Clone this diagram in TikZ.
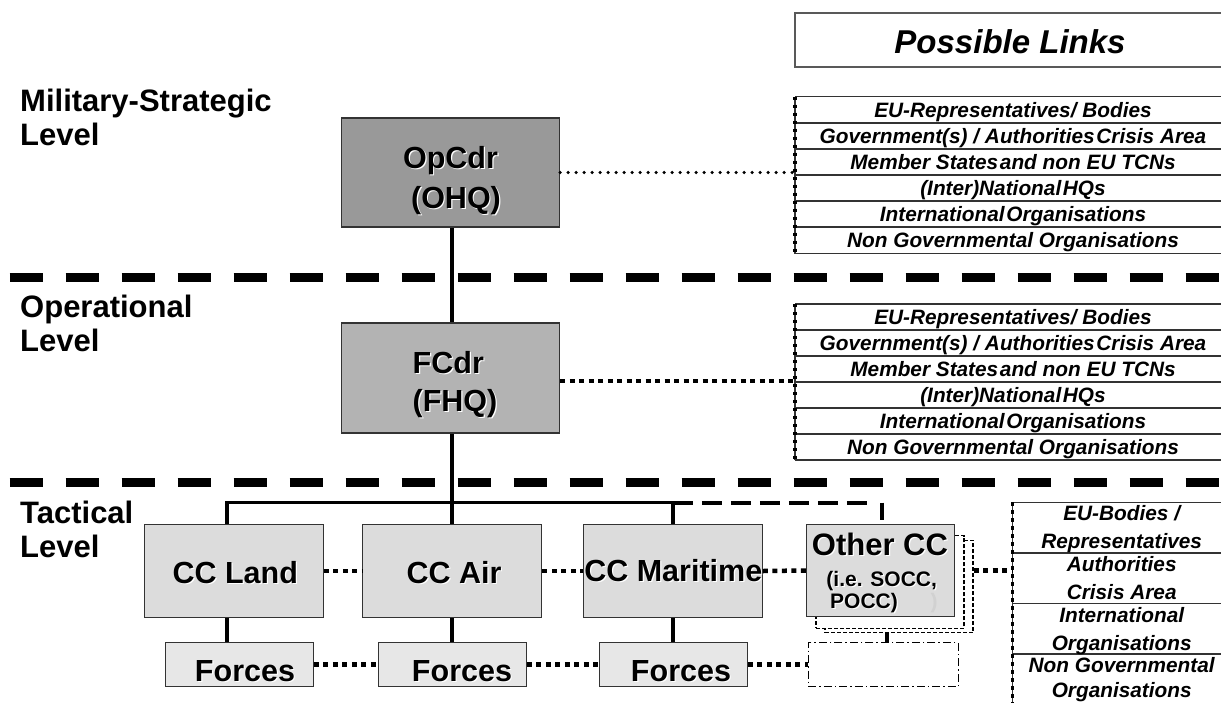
\documentclass[tikz,border=0pt]{standalone}
\usepackage{fontspec}
\setmainfont{Liberation Sans}
\usetikzlibrary{calc}

\definecolor{opgray}{HTML}{999999}
\definecolor{fcgray}{HTML}{B3B3B3}
\definecolor{ccgray}{HTML}{DCDCDC}
\definecolor{frgray}{HTML}{E7E7E7}
\definecolor{edgegray}{HTML}{333333}

% bold label with a light offset copy behind it
\newcommand\shd[1]{\makebox[0pt][l]{\hspace{1.2pt}\raisebox{-1.2pt}{\color{white}#1}}#1}
% narrow word gap
\newcommand\tsp{\hspace{0.08em}}

\begin{document}
\begin{tikzpicture}[x=1pt,y=-1pt,
  hqbox/.style={draw=edgegray, line width=1.3pt, inner sep=0pt},
  ccbox/.style={hqbox, fill=ccgray, minimum width=179pt, minimum height=93.4pt},
  frbox/.style={hqbox, fill=frgray, minimum width=148pt, minimum height=44pt},
  ghostbox/.style={draw=black, line width=1.2pt, dash pattern=on 4pt off 2pt, fill=white,
     inner sep=0pt, minimum width=148pt, minimum height=92.5pt},
  big/.style={font=\fontsize{30.5}{36}\selectfont\bfseries, inner sep=0pt, anchor=base},
  small/.style={font=\fontsize{21}{24}\selectfont\bfseries, inner sep=0pt, anchor=base},
  linktxt/.style={font=\fontsize{20.8}{24}\selectfont\bfseries\itshape, inner sep=0pt, anchor=base},
  levellbl/.style={font=\fontsize{31}{35}\selectfont\bfseries, inner sep=0pt, anchor=base west},
  sep/.style={line width=9pt, dash pattern=on 33pt off 23pt},
  tree/.style={line width=3.5pt},
  treedash/.style={line width=4pt, dash pattern=on 20pt off 9pt},
  roundlink/.style={line width=3.6pt, line cap=round, dash pattern=on 0pt off 8pt},
  sqlink/.style={line width=4.5pt, dash pattern=on 5pt off 4.5pt},
  rowline/.style={line width=1.5pt, draw=edgegray},
  tableedge/.style={line width=3.8pt, dash pattern=on 3.5pt off 4.5pt},
  tablenode/.style={inner sep=0pt, minimum width=445pt}
]
\useasboundingbox (0,0) rectangle (1221,702);
\clip (0,0) rectangle (1221,702);

% ---------- level separators ----------
\draw[sep] (9.5,277.5) -- (1240,277.5);
\draw[sep] (9.5,482.5) -- (1240,482.5);

% ---------- level names ----------
\node[levellbl] (lvMS1) at (20,111) {Military-Strategic};
\node[levellbl] (lvMS2) at (20,145) {Level};
\node[levellbl] (lvOp1) at (20,317) {Operational};
\node[levellbl] (lvOp2) at (20,351) {Level};
\node[levellbl] (lvTa1) at (20,523) {Tactical};
\node[levellbl] (lvTa2) at (20,557) {Level};

% ---------- headquarters ----------
\node[hqbox, fill=opgray, minimum width=218pt, minimum height=109pt] (op) at (450.5,172.5) {};
\node[big] (opT1) at (450.5,168.6) {\shd{OpCdr}};
\node[big] (opT2) at (456,208.6) {\shd{(OHQ)}};

\node[hqbox, fill=fcgray, minimum width=218pt, minimum height=110pt] (fc) at (450.5,378) {};
\node[big] (fcT1) at (448.3,373.3) {\shd{FCdr}};
\node[big] (fcT2) at (455,411.7) {\shd{(FHQ)}};

% ---------- component commands ----------
\node[ccbox] (land) at (233.8,571) {};
\node[big] (landT) at (235.3,583) {\shd{CC Land}};
\node[ccbox] (air) at (452.2,571) {};
\node[big] (airT) at (454,583) {\shd{CC Air}};
\node[ccbox] (mar) at (672.8,571) {};
\node[big] (marT) at (673.3,581) {\shd{CC Maritime}};

\node[ghostbox] (shB) at (899,586.5) {};
\node[ghostbox] (shA) at (890,582) {};
\node[hqbox, fill=ccgray, minimum width=147.6pt, minimum height=92.4pt] (oth) at (880.5,570.5) {};
\node[big, font=\fontsize{31}{36}\selectfont\bfseries] (othT1) at (880,555) {\shd{Other CC}};
\node[small] (othT2) at (881.7,586) {\shd{(i.e. SOCC,}};
\node[small] (othT3) at (864,608.5) {\shd{POCC)}};
\node[small, text=black!18] (othT4) at (934,608.5) {)};

% ---------- forces ----------
\node[frbox] (f1) at (239.2,664.7) {};
\node[big] (f1T) at (245,681.5) {\shd{Forces}};
\node[frbox] (f2) at (452.3,664.7) {};
\node[big] (f2T) at (462,681.5) {\shd{Forces}};
\node[frbox] (f3) at (673.3,664.7) {};
\node[big] (f3T) at (681,681.5) {\shd{Forces}};
\node[draw=black, line width=1.2pt, dash pattern=on 8pt off 3pt on 1.5pt off 3pt,
      inner sep=0pt, minimum width=150pt, minimum height=44pt] (dd) at (883.3,664.7) {};

% ---------- command lines ----------
\coordinate (busL) at (227,502.5);
\coordinate (busR) at (672.8,502.5);
\coordinate (busO) at (881.7,502.5);
\coordinate (stk) at (887,633);
\draw[tree] (air.north |- op.south) -- (air.north |- fc.north);
\draw[tree] (air.north |- fc.south) -- (air.north);
\draw[tree] (busL |- land.north) -- (busL) -- (busR) -- (mar.north);
\draw[tree] (busL |- land.south) -- (busL |- f1.north);
\draw[tree] (air.south) -- (air.south |- f2.north);
\draw[tree] (mar.south) -- (mar.south |- f3.north);
\draw[treedash] (busR) -- ([xshift=-8pt]busO);
\draw[line width=4pt] (busO) -- ([yshift=4pt]busO |- oth.north);
\draw[line width=4pt] (stk) -- (stk |- dd.north);

% ---------- coordination links ----------
\draw[sqlink] (land.east) -- (air.west);
\draw[sqlink] (air.east) -- (mar.west);
\draw[sqlink] (mar.east) -- (oth.west);
\draw[sqlink] (f1.east) -- (f2.west);
\draw[sqlink] (f2.east) -- (f3.west);
\draw[sqlink] (f3.east) -- (dd.west);

% ---------- possible links ----------
\node[draw=black!65, line width=2pt, inner sep=0pt, minimum width=445pt, minimum height=54pt] (plbox) at (1017.5,39.7) {};
\node[font=\fontsize{33}{38}\selectfont\bfseries\itshape, inner sep=0pt, anchor=base] (plT) at (1010,53.3) {Possible Links};

% strategic level table
\node[tablenode, minimum height=156.6pt] (tab1) at (1017.5,175) {};
\foreach \yy in {96.7,122.8,148.9,175,201.1,227.2,253.3}
  \draw[rowline] (795,\yy) -- (1240,\yy);
\draw[rowline] (tab1.north west) -- (tab1.south west);
\draw[tableedge] (tab1.north west) -- (tab1.south west);
\node[linktxt] (t1a) at (1013,117) {EU-Representatives/ Bodies};
\node[linktxt] (t1b) at (1013,143.1) {Government(s) / Authorities\tsp Crisis Area};
\node[linktxt] (t1c) at (1013,169.2) {Member States\tsp and non EU TCNs};
\node[linktxt] (t1d) at (1013,195.3) {(Inter)National\tsp HQs};
\node[linktxt] (t1e) at (1013,221.4) {International\tsp Organisations};
\node[linktxt] (t1f) at (1013,247.5) {Non Governmental Organisations};
\draw[roundlink] (op.east) -- (op.east -| tab1.west);

% operational level table
\node[tablenode, minimum height=156pt] (tab2) at (1017.5,382) {};
\foreach \yy in {304,330,356,382,408,434,460}
  \draw[rowline] (795,\yy) -- (1240,\yy);
\draw[rowline] (tab2.north west) -- (tab2.south west);
\draw[tableedge] (tab2.north west) -- (tab2.south west);
\node[linktxt] (t2a) at (1013,324.3) {EU-Representatives/ Bodies};
\node[linktxt] (t2b) at (1013,350.3) {Government(s) / Authorities\tsp Crisis Area};
\node[linktxt] (t2c) at (1013,376.3) {Member States\tsp and non EU TCNs};
\node[linktxt] (t2d) at (1013,402.3) {(Inter)National\tsp HQs};
\node[linktxt] (t2e) at (1013,428.3) {International\tsp Organisations};
\node[linktxt] (t2f) at (1013,454.3) {Non Governmental Organisations};
\draw[sqlink] ([yshift=-3pt]fc.east) -- ([yshift=-3pt]fc.east -| tab2.west);

% tactical level table
\node[inner sep=0pt, minimum width=227.3pt, minimum height=202.4pt] (tab3) at (1126.3,603.5) {};
\foreach \yy in {502.3,552.9,603.5,654.1,704.7}
  \draw[rowline] (1012.7,\yy) -- (1240,\yy);
\draw[rowline] (tab3.north west) -- (tab3.south west);
\draw[tableedge] (tab3.north west) -- (tab3.south west);
\node[linktxt] (t3a) at (1121.7,520.8) {EU-Bodies /};
\node[linktxt] (t3b) at (1121.7,548.8) {Representatives};
\node[linktxt] (t3c) at (1121.7,571.6) {Authorities};
\node[linktxt] (t3d) at (1121.7,599.6) {Crisis Area};
\node[linktxt] (t3e) at (1121.7,622.3) {International};
\node[linktxt] (t3f) at (1121.7,650.3) {Organisations};
\node[linktxt] (t3g) at (1121.7,672.6) {Non Governmental};
\node[linktxt] (t3h) at (1121.7,697.2) {Organisations};
\draw[sqlink] (shB.east |- oth.east) -- (oth.east -| tab3.west);
\end{tikzpicture}
\end{document}
